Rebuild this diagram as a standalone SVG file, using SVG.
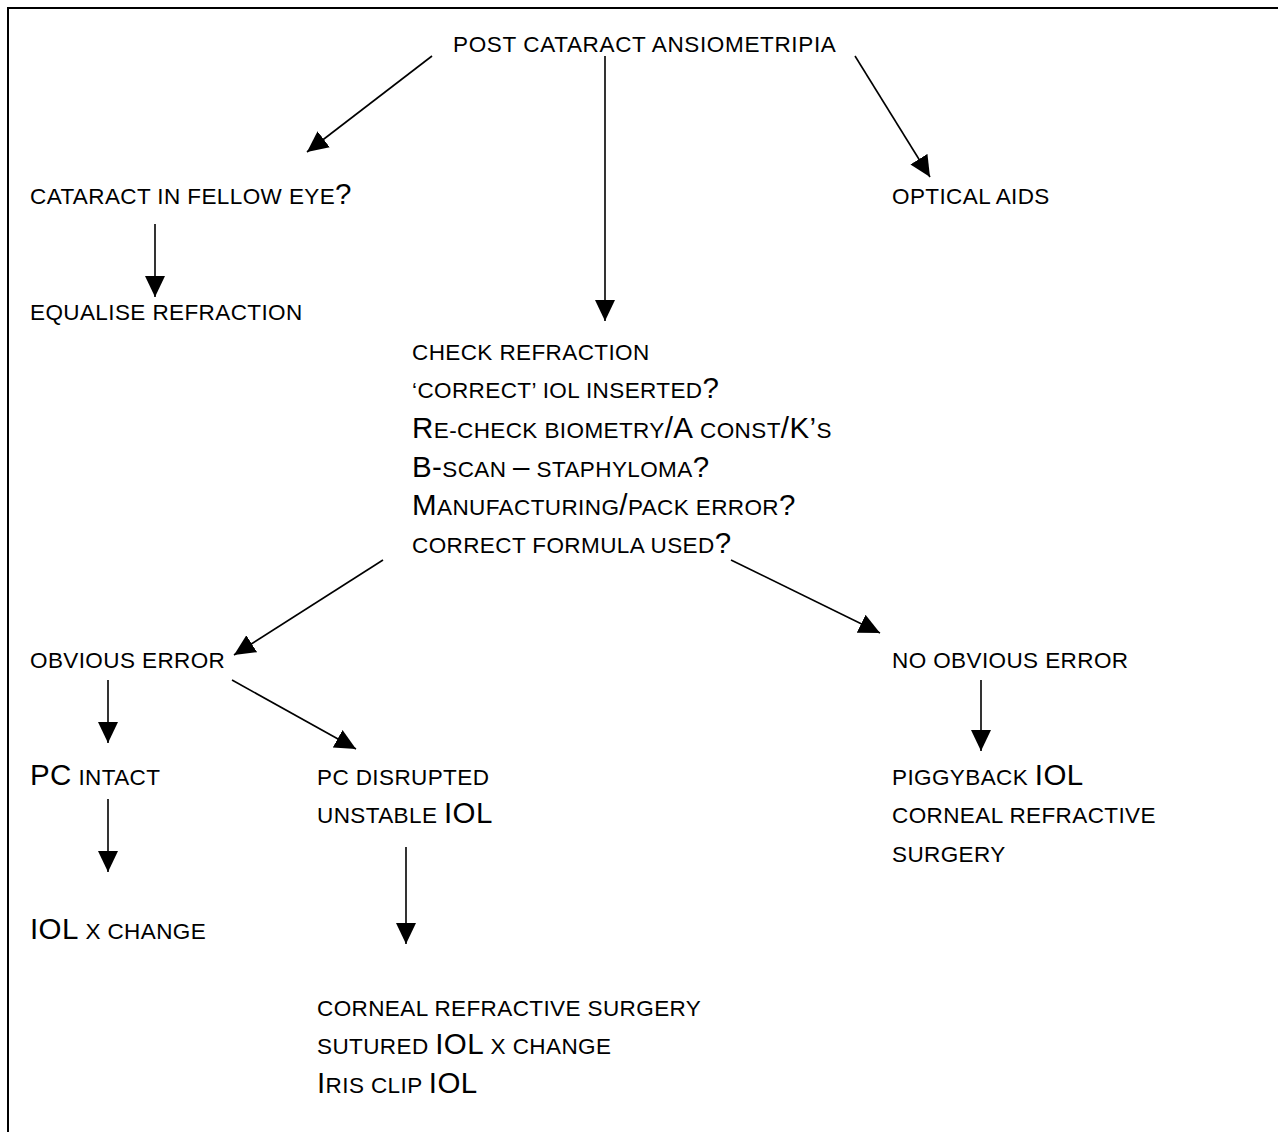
<svg xmlns="http://www.w3.org/2000/svg" width="1278" height="1132" viewBox="0 0 1278 1132">
<style>
text{font-family:"Liberation Sans",Arial,sans-serif;font-size:22.5px;fill:#000;letter-spacing:0.4px}
.L{font-size:29.5px}
.c{stroke:#000;stroke-width:1.6;fill:none;marker-end:url(#ah)}
</style>
<defs>
<marker id="ah" markerUnits="userSpaceOnUse" markerWidth="22" markerHeight="22" viewBox="0 0 22 22" refX="21" refY="11" orient="auto">
<path d="M0,1 L21,11 L0,21 z" fill="#000"/>
</marker>
</defs>
<rect width="1278" height="1132" fill="#fff"/>
<g id="frame" stroke="#000" stroke-width="2" fill="none">
<path d="M8,1132 V8 H1278"/>
</g>
<g id="connectors">
<line class="c" x1="432" y1="56" x2="307" y2="152"/>
<line class="c" x1="605" y1="56" x2="605" y2="321"/>
<line class="c" x1="855" y1="56" x2="930" y2="177"/>
<line class="c" x1="155" y1="224" x2="155" y2="297"/>
<line class="c" x1="383" y1="560" x2="234" y2="655"/>
<line class="c" x1="731" y1="560" x2="880" y2="633"/>
<line class="c" x1="108" y1="680" x2="108" y2="743"/>
<line class="c" x1="232" y1="680" x2="356" y2="749"/>
<line class="c" x1="981" y1="680" x2="981" y2="751"/>
<line class="c" x1="108" y1="799" x2="108" y2="872"/>
<line class="c" x1="406" y1="847" x2="406" y2="944"/>
</g>
<g id="n-title"><text x="453" y="52" style="letter-spacing:0.65px">POST CATARACT ANSIOMETRIPIA</text></g>
<g id="n-fellow"><text x="30" y="204">CATARACT IN FELLOW EYE<tspan class="L">?</tspan></text></g>
<g id="n-optical"><text x="892" y="204">OPTICAL AIDS</text></g>
<g id="n-equalise"><text x="30" y="320">EQUALISE REFRACTION</text></g>
<g id="n-check">
<text x="412" y="360">CHECK REFRACTION</text>
<text x="412" y="398">‘CORRECT’ IOL INSERTED<tspan class="L">?</tspan></text>
<text x="412" y="438"><tspan class="L">R</tspan>E-CHECK BIOMETRY<tspan class="L">/A</tspan> CONST<tspan class="L">/K’</tspan>S</text>
<text x="412" y="477"><tspan class="L">B-</tspan>SCAN <tspan class="L">–</tspan> STAPHYLOMA<tspan class="L">?</tspan></text>
<text x="412" y="515"><tspan class="L">M</tspan>ANUFACTURING<tspan class="L">/</tspan>PACK ERROR<tspan class="L">?</tspan></text>
<text x="412" y="553">CORRECT FORMULA USED<tspan class="L">?</tspan></text>
</g>
<g id="n-obvious"><text x="30" y="668">OBVIOUS ERROR</text></g>
<g id="n-noobvious"><text x="892" y="668">NO OBVIOUS ERROR</text></g>
<g id="n-intact"><text x="30" y="785"><tspan class="L">PC</tspan> INTACT</text></g>
<g id="n-disrupted">
<text x="317" y="785">PC DISRUPTED</text>
<text x="317" y="823">UNSTABLE <tspan class="L">IOL</tspan></text>
</g>
<g id="n-xchange"><text x="30" y="939"><tspan class="L">IOL</tspan> X CHANGE</text></g>
<g id="n-piggyback">
<text x="892" y="785">PIGGYBACK <tspan class="L">IOL</tspan></text>
<text x="892" y="823">CORNEAL REFRACTIVE</text>
<text x="892" y="862">SURGERY</text>
</g>
<g id="n-options">
<text x="317" y="1016">CORNEAL REFRACTIVE SURGERY</text>
<text x="317" y="1054">SUTURED <tspan class="L">IOL</tspan> X CHANGE</text>
<text x="317" y="1093"><tspan class="L">I</tspan>RIS CLIP <tspan class="L">IOL</tspan></text>
</g>
</svg>
